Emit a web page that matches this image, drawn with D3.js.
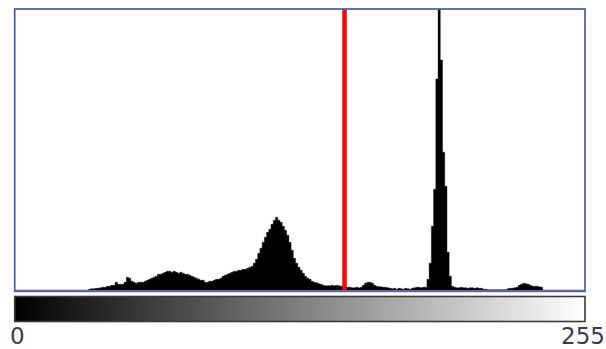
<!DOCTYPE html>
<html>
<head>
<meta charset="utf-8">
<script src="https://cdn.jsdelivr.net/npm/d3@7"></script>
<style>
  html, body { margin: 0; padding: 0; background: #ffffff; }
  svg { display: block; }
</style>
</head>
<body>
<svg id="chart" width="606" height="349"></svg>
<script>
// ---- data ----
const binCount = 256;
const threshold = 148;
const tickLabels = ["0", "255"];
// histogram counts per grey level 0..255
const counts = [
  0,0,0,0,0,0,0,0,0,0, 0,0,0,0,0,0,0,0,0,0, 0,0,0,0,0,0,0,0,0,0, 0,0,0,
  1,1.5,1.5,2,2,2.5,3,3,4,4,5,5,8,6,6,6,8,13,12,9,8,7,8,8,8,9,10,11,12,13,14,
  16,16,17,18,19,19,18,19,18,17,18,17,16,16,15,14,13,12,11,10,10,8,8,9,9,10,
  11,11,12,14,15,16,17,18,19,19,20,20,21,21,22,23,24,27,31,37,42,48,53,58,61,
  66,70,73,70,68,64,60,55,48,40,32,27,23,20,17,14,12,11,9,8,7.5,6.5,6,5,4.5,
  4.5,4.5,5,4.5,5,4.5,4,4,3.5,3,3,2.5,2.5,3,2.5,3,5,7,8,8,7,5,4,3.5,3.5,3,3,
  2.5,2,1.5,2,1,2,1.5,1,2,1.5,1,2,2.5,3,3,2.5,3,3,11,27,64,101,211,330,230,
  138,104,38,14,4,3,2.5,2.5,3,2.5,2.5,2,2.5,2.5,2,2.5,2,2,1,1,0.5,0.5,0.5,0.5,
  0.5,0.5,0.5,0.5,0.5,1.5,2,2,2.5,3,5,6,7,6.5,6,5,4,4,4,3.5,3,
  0,0,0,0,0,0,0,0,0,0,0,0,0,0,0,0,0,0,0
];
const yMax = 281;

// ---- layout ----
const box = { left: 14.7, top: 9, right: 585, bottom: 291.3 };
const bar = { top: 296.5, bottom: 321.5 };

const svg = d3.select("#chart");

const x = d3.scaleLinear().domain([0, binCount]).range([15, 585]);
const y = d3.scaleLinear().domain([0, yMax]).range([290.3, box.top]);

const defs = svg.append("defs");
defs.append("clipPath").attr("id", "plotClip")
  .append("rect")
  .attr("x", box.left).attr("y", box.top)
  .attr("width", box.right - box.left).attr("height", box.bottom - box.top);

const grad = defs.append("linearGradient").attr("id", "greyRamp")
  .attr("x1", "0%").attr("x2", "100%").attr("y1", "0%").attr("y2", "0%");
grad.append("stop").attr("offset", "0%").attr("stop-color", "#000000");
grad.append("stop").attr("offset", "100%").attr("stop-color", "#ffffff");

// plot background
svg.append("rect")
  .attr("x", box.left).attr("y", box.top)
  .attr("width", box.right - box.left).attr("height", box.bottom - box.top)
  .attr("fill", "#ffffff");

// histogram
const pts = counts.map((v, i) => [i, v]);
pts.push([binCount, 0]);
const area = d3.area()
  .x(d => x(d[0]))
  .y0(y(0))
  .y1(d => y(d[1]))
  .curve(d3.curveStepAfter);

svg.append("g").attr("clip-path", "url(#plotClip)")
  .append("path")
  .datum(pts)
  .attr("d", area)
  .attr("fill", "#000000")
  .attr("stroke", "#000000")
  .attr("stroke-width", 0.4);

// threshold line
svg.append("line")
  .attr("x1", x(threshold)).attr("x2", x(threshold))
  .attr("y1", box.top).attr("y2", y(0))
  .attr("stroke", "#ff0000")
  .attr("stroke-width", 4.5);

// plot frame
svg.append("rect")
  .attr("x", box.left).attr("y", box.top)
  .attr("width", box.right - box.left).attr("height", box.bottom - box.top)
  .attr("fill", "none")
  .attr("stroke", "#4d66ab")
  .attr("stroke-width", 1.8);

// grey ramp bar
svg.append("rect")
  .attr("x", box.left).attr("y", bar.top)
  .attr("width", box.right - box.left).attr("height", bar.bottom - bar.top)
  .attr("fill", "url(#greyRamp)")
  .attr("stroke", "#3a3a3a")
  .attr("stroke-width", 1.6);

// axis labels via a scale
const labelScale = d3.scaleLinear().domain([0, 255]).range([10, 605]);
svg.selectAll("text.lbl")
  .data(tickLabels)
  .join("text")
  .attr("class", "lbl")
  .attr("x", d => labelScale(+d))
  .attr("y", 343.5)
  .attr("text-anchor", (d, i) => i === 0 ? "start" : "end")
  .attr("font-family", "DejaVu Sans, Verdana, sans-serif")
  .attr("font-size", 23)
  .attr("fill", "#333a5c")
  .text(d => d);
</script>
</body>
</html>
